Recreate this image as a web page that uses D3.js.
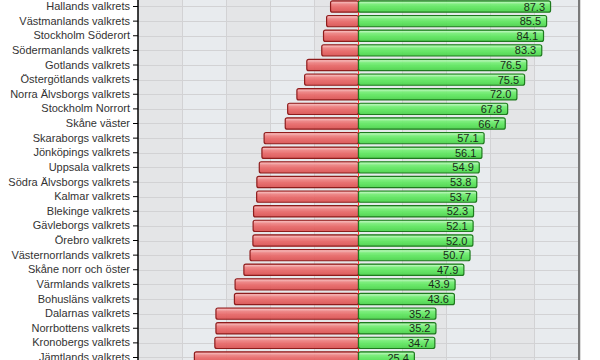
<!DOCTYPE html>
<html>
<head>
<meta charset="utf-8">
<script src="https://cdn.jsdelivr.net/npm/d3@7"></script>
<style>
  body { margin: 0; background: #fff; }
  svg { display: block; font-family: "Liberation Sans", Arial, sans-serif; }
</style>
</head>
<body>
<div id="container"></div>
<script>
/* DATA */
const districts = [
  "Hallands valkrets", "Västmanlands valkrets", "Stockholm Söderort", "Södermanlands valkrets",
  "Gotlands valkrets", "Östergötlands valkrets", "Norra Älvsborgs valkrets", "Stockholm Norrort",
  "Skåne väster", "Skaraborgs valkrets", "Jönköpings valkrets", "Uppsala valkrets",
  "Södra Älvsborgs valkrets", "Kalmar valkrets", "Blekinge valkrets", "Gävleborgs valkrets",
  "Örebro valkrets", "Västernorrlands valkrets", "Skåne norr och öster", "Värmlands valkrets",
  "Bohusläns valkrets", "Dalarnas valkrets", "Norrbottens valkrets", "Kronobergs valkrets",
  "Jämtlands valkrets"
];
const yesValues = [87.3, 85.5, 84.1, 83.3, 76.5, 75.5, 72.0, 67.8, 66.7, 57.1, 56.1, 54.9,
  53.8, 53.7, 52.3, 52.1, 52.0, 50.7, 47.9, 43.9, 43.6, 35.2, 35.2, 34.7, 25.4];
const noValues = [12.7, 14.5, 15.9, 16.7, 23.5, 24.5, 28.0, 32.2, 33.3, 42.9, 43.9, 45.1,
  46.2, 46.3, 47.7, 47.9, 48.0, 49.3, 52.1, 56.1, 56.4, 64.8, 64.8, 65.3, 74.6];
const xTicks = [-100, -80, -60, -40, -20, 0, 20, 40, 60, 80, 100];

/* CONSTANTS */
const width = 600;
const height = 360;
const step = 14.625;
const top0 = 6.5 - step / 2;

const data = districts.map((d, i) => ({ name: d, yes: yesValues[i], no: noValues[i] }));

const svg = d3.select("#container")
  .append("svg")
  .attr("width", width)
  .attr("height", height);

/* SCALES */
const xScale = d3.scaleLinear()
  .domain([-100, 100])
  .range([138, 578]);

const yScale = d3.scaleBand()
  .domain(districts)
  .range([top0, top0 + step * districts.length])
  .paddingInner(0.16)
  .paddingOuter(0.08);

/* GRADIENTS */
const defs = svg.append("defs");
function gloss(id, stops) {
  const g = defs.append("linearGradient").attr("id", id)
    .attr("x1", 0).attr("y1", 0).attr("x2", 0).attr("y2", 1);
  stops.forEach(s => g.append("stop").attr("offset", s[0]).attr("stop-color", s[1]));
}
gloss("redGrad", [["0%", "#e47070"], ["12%", "#f6b0b0"], ["30%", "#ee8080"], ["60%", "#e86464"], ["100%", "#d85050"]]);
gloss("greenGrad", [["0%", "#62dc62"], ["12%", "#b0f6b0"], ["30%", "#74ee74"], ["60%", "#5ce65c"], ["100%", "#48d048"]]);

/* BACKGROUND */
const bands = xTicks.slice(0, -1);
svg.selectAll(".band")
  .data(bands)
  .join("rect")
  .attr("class", "band")
  .attr("x", d => xScale(d))
  .attr("y", -10)
  .attr("width", d => xScale(d + 20) - xScale(d))
  .attr("height", height + 20)
  .attr("fill", (d, i) => i % 2 === 0 ? "#e4e5e7" : "#e8ebee");

// gridlines
svg.selectAll(".vgrid")
  .data(xTicks.slice(1, -1))
  .join("line")
  .attr("class", "vgrid")
  .attr("x1", d => xScale(d) + 0.5).attr("x2", d => xScale(d) + 0.5)
  .attr("y1", -10).attr("y2", height + 10)
  .attr("stroke", "#d2d2d4");

svg.selectAll(".hgrid")
  .data(districts)
  .join("line")
  .attr("class", "hgrid")
  .attr("x1", xScale(-100)).attr("x2", xScale(100))
  .attr("y1", d => Math.round(yScale(d) + yScale.bandwidth() / 2) + 0.5)
  .attr("y2", d => Math.round(yScale(d) + yScale.bandwidth() / 2) + 0.5)
  .attr("stroke", "#d2d2d4");

// zero line
svg.append("line")
  .attr("x1", xScale(0) + 0.5).attr("x2", xScale(0) + 0.5)
  .attr("y1", -10).attr("y2", height + 10)
  .attr("stroke", "#ff3030");

/* BARS */
svg.selectAll(".no")
  .data(data)
  .join("rect")
  .attr("class", "no")
  .attr("x", d => xScale(-d.no) + 0.5)
  .attr("y", d => yScale(d.name) + 0.5)
  .attr("width", d => xScale(0) - xScale(-d.no))
  .attr("height", yScale.bandwidth() - 1)
  .attr("rx", 2)
  .attr("fill", "url(#redGrad)")
  .attr("fill-opacity", 0.92)
  .attr("stroke", "#8e1c1c")
  .attr("stroke-width", 1.2);

svg.selectAll(".yes")
  .data(data)
  .join("rect")
  .attr("class", "yes")
  .attr("x", xScale(0) + 0.5)
  .attr("y", d => yScale(d.name) + 0.5)
  .attr("width", d => xScale(d.yes) - xScale(0))
  .attr("height", yScale.bandwidth() - 1)
  .attr("rx", 2)
  .attr("fill", "url(#greenGrad)")
  .attr("fill-opacity", 0.92)
  .attr("stroke", "#1e7a1e")
  .attr("stroke-width", 1.2);

svg.selectAll(".val")
  .data(data)
  .join("text")
  .attr("class", "val")
  .attr("x", d => xScale(d.yes) - 5)
  .attr("y", d => yScale(d.name) + yScale.bandwidth() / 2 + 4)
  .attr("text-anchor", "end")
  .attr("font-size", 11)
  .attr("fill", "#1a2a1a")
  .text(d => d.yes.toFixed(1));

/* AXES */
svg.append("g")
  .attr("transform", `translate(${xScale(-100)},0)`)
  .call(d3.axisLeft(yScale).tickSize(5).tickPadding(3))
  .call(g => g.select(".domain").remove())
  .call(g => g.selectAll("text").attr("font-size", 11).attr("fill", "#333").attr("font-family", "Liberation Sans, Arial, sans-serif"))
  .call(g => g.selectAll("line").attr("stroke", "#000"));

svg.append("line")
  .attr("x1", xScale(-100)).attr("x2", xScale(-100))
  .attr("y1", -10).attr("y2", height + 10)
  .attr("stroke", "#000").attr("stroke-width", 1.5);

// right frame
svg.append("line")
  .attr("x1", xScale(100) + 1).attr("x2", xScale(100) + 1)
  .attr("y1", -10).attr("y2", height + 10)
  .attr("stroke", "#7a7a7a").attr("stroke-width", 2);
svg.append("line")
  .attr("x1", xScale(100) + 2.5).attr("x2", xScale(100) + 2.5)
  .attr("y1", -10).attr("y2", height + 10)
  .attr("stroke", "#dcdcdc").attr("stroke-width", 1);
</script>
</body>
</html>
